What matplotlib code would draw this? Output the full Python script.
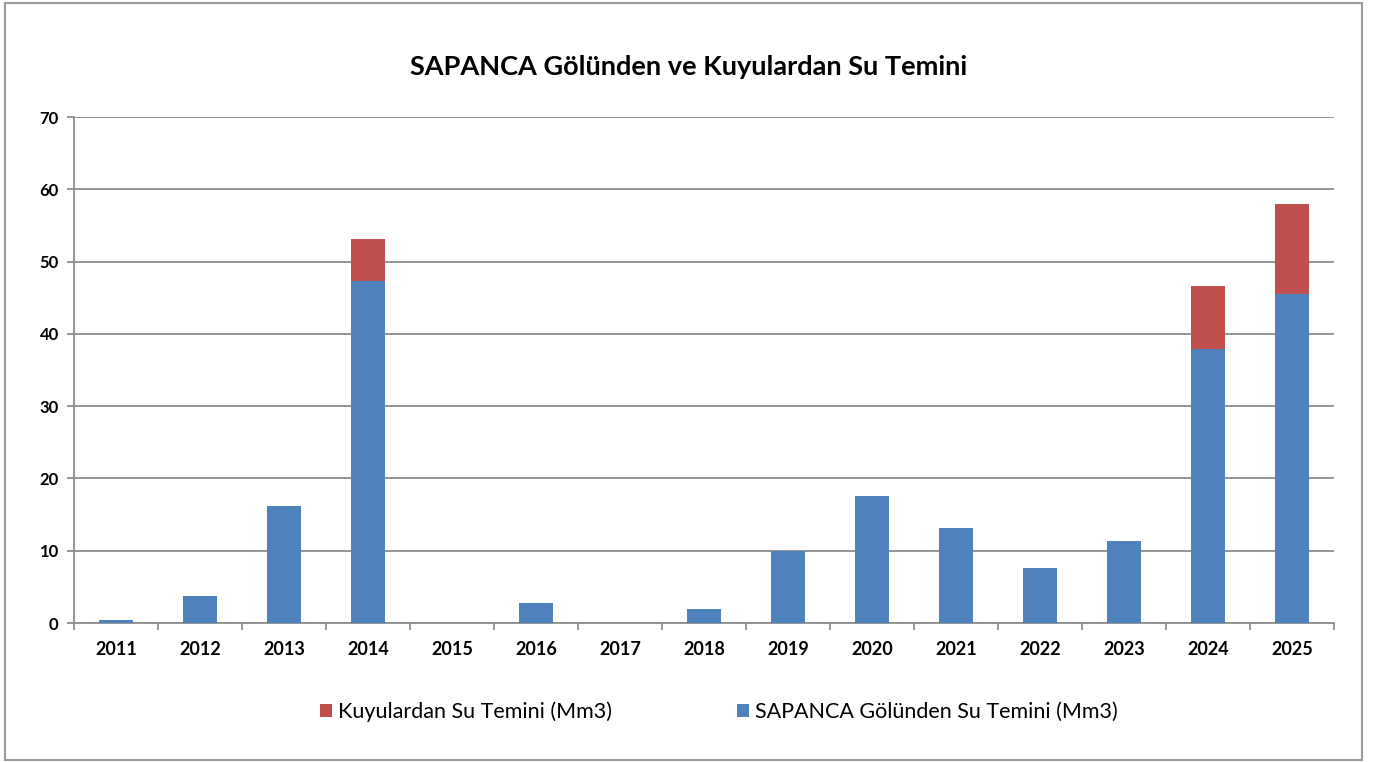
import numpy as np
import matplotlib.pyplot as plt
from matplotlib.patches import Rectangle

plt.rcParams["font.family"] = ["Lato", "DejaVu Sans"]

years = ["2011", "2012", "2013", "2014", "2015", "2016", "2017", "2018",
         "2019", "2020", "2021", "2022", "2023", "2024", "2025"]
# SAPANCA lake (Mm3)
gol = [0.4, 3.7, 16.2, 47.3, 0, 2.8, 0, 1.9, 10.0, 17.6, 13.1, 7.6, 11.3, 37.9, 45.5]
# wells (Mm3)
kuyu = [0, 0, 0, 5.8, 0, 0, 0, 0, 0, 0, 0, 0, 0, 8.7, 12.5]

blue = "#4F81BD"
red = "#C0504D"
grid_c = "#8C8C8C"

fig = plt.figure(figsize=(13.78, 7.62), dpi=100)
ax = fig.add_axes([74 / 1378, 1 - 623 / 762, 1260 / 1378, 506 / 762])

x = np.arange(len(years))
b1 = ax.bar(x, gol, width=0.4, color=blue, zorder=3,
            label="SAPANCA Gölünden Su Temini (Mm3)")
b2 = ax.bar(x, kuyu, width=0.4, bottom=gol, color=red, zorder=3,
            label="Kuyulardan Su Temini (Mm3)")

ax.set_xlim(-0.5, len(years) - 0.5)
ax.set_ylim(0, 70)
ax.set_yticks(range(0, 71, 10))
ax.yaxis.grid(True, color=grid_c, lw=1.3, zorder=0)

ax.set_xticks(x)
ax.set_xticklabels(years, fontsize=13, fontweight="bold")
ax.set_xticks(np.arange(-0.5, len(years)), minor=True)
ax.tick_params(axis="x", which="major", length=0, pad=13)
ax.tick_params(axis="x", which="minor", length=5, color=grid_c, width=1.3)
ax.tick_params(axis="y", length=5, color=grid_c, width=1.3, labelsize=12, pad=6)
for lbl in ax.get_yticklabels():
    lbl.set_fontweight("bold")

for s in ["top", "right"]:
    ax.spines[s].set_visible(False)
for s in ["left", "bottom"]:
    ax.spines[s].set_color(grid_c)
    ax.spines[s].set_linewidth(1.3)

fig.text(0.5, 1 - 67 / 762, "SAPANCA Gölünden ve Kuyulardan Su Temini",
         ha="center", va="center", fontsize=19.5, fontweight="bold")

fig.legend(handles=[b2, b1], loc="center", bbox_to_anchor=(719 / 1378, 1 - 712 / 762),
           ncol=2, frameon=False, fontsize=15.5, handlelength=0.55, handleheight=0.55,
           handletextpad=0.3, columnspacing=5.8)

fig.patches.append(Rectangle((5 / 1378, 2 / 762), 1357 / 1378, 757 / 762,
                             transform=fig.transFigure, fill=False,
                             edgecolor="#9A9A9A", lw=1.5))

fig.savefig("out.png", dpi=100)
